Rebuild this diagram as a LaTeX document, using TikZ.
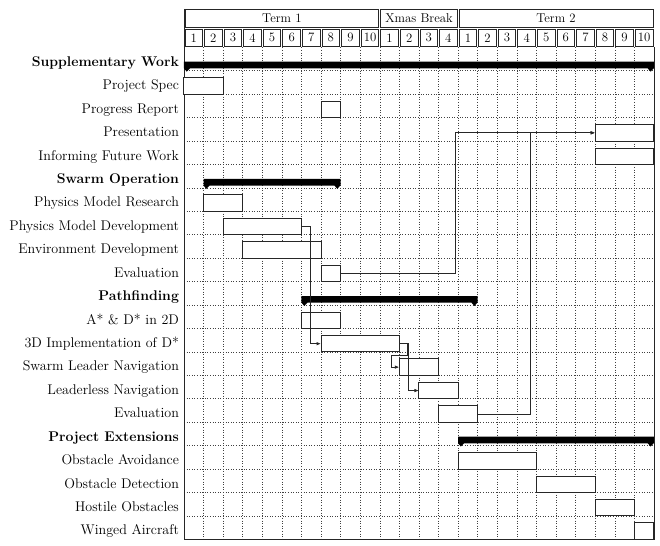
\documentclass[tikz,border=0pt]{standalone}
\usetikzlibrary{arrows.meta,calc}
\newcommand{\lblfont}{\fontsize{14.05}{16}\selectfont}
\newcommand{\hdrfont}{\fontsize{12.8}{15}\selectfont}
\tikzset{
  gridline/.style={dotted,line width=0.6pt,black!75},
  barbox/.style={draw=black!85,line width=1pt,fill=white,inner sep=0pt,outer sep=0pt,minimum height=16.4pt,anchor=north west},
  rowlabel/.style={anchor=base east,inner sep=0pt,font=\lblfont},
  grouplabel/.style={anchor=base east,inner sep=0pt,font=\lblfont\bfseries},
  hcell/.style={draw=black!85,line width=0.9pt,inner sep=0pt,font=\hdrfont},
  linkline/.style={draw=black!85,line width=0.9pt,-{Latex[length=4.5pt,width=3.5pt]}},
  groupfill/.style={fill=black}
}
% task bar: name, row, first column, last column
\newcommand{\taskbar}[4]{\node[barbox,minimum width={(#4-#3+1)*19.583pt}] (#1) at (#3-1,#2-0.7) {};}
% group bar: row, first column, last column
\newcommand{\groupbar}[3]{\fill[groupfill] (#2-1,#1-0.385) -- (#3,#1-0.385) -- (#3,#1-0.1) -- (#3-0.32,#1-0.1) -- (#3-0.17,#1+0.04) -- (#3-0.02,#1-0.1) -- (#2-1+0.3,#1-0.1) -- (#2-1+0.14,#1+0.04) -- (#2-1,#1-0.1) -- cycle;}
\begin{document}
\begin{tikzpicture}[x=19.583pt,y=-23.43pt]
\useasboundingbox (-9.396,-2.019) rectangle (24.307,21.242);
% grid
\foreach \i in {1,...,23} \draw[gridline] (\i,0) -- (\i,21);
\foreach \j in {1,...,20} \draw[gridline] (0,\j) -- (24,\j);
% canvas frame
\draw[draw=black!85,line width=0.9pt] (0,-1.635) -- (0,21) -- (24,21) -- (24,-0.034);
% title row 1
\node[hcell,minimum width={9.9*19.583pt},minimum height=18pt] (term1) at (5,-1.25) {Term 1};
\node[hcell,minimum width={3.9*19.583pt},minimum height=18pt] (xmas) at (12,-1.25) {Xmas Break};
\node[hcell,minimum width={9.9*19.583pt},minimum height=18pt] (term2) at (19,-1.25) {Term 2};
% title row 2
\foreach \k in {1,...,10} \node[hcell,minimum width={0.9*19.583pt},minimum height=17.5pt] (ta\k) at (\k-0.5,-0.408) {\k};
\foreach \k in {1,...,4} \node[hcell,minimum width={0.9*19.583pt},minimum height=17.5pt] (tb\k) at (\k+9.5,-0.408) {\k};
\foreach \k in {1,...,10} \node[hcell,minimum width={0.9*19.583pt},minimum height=17.5pt] (tc\k) at (\k+13.5,-0.408) {\k};
% labels
\node[grouplabel] (l1) at (-0.25,0.81) {Supplementary Work};
\node[rowlabel] (l2) at (-0.25,1.81) {Project Spec};
\node[rowlabel] (l3) at (-0.25,2.81) {Progress Report};
\node[rowlabel] (l4) at (-0.25,3.81) {Presentation};
\node[rowlabel] (l5) at (-0.25,4.81) {Informing Future Work};
\node[grouplabel] (l6) at (-0.25,5.81) {Swarm Operation};
\node[rowlabel] (l7) at (-0.25,6.81) {Physics Model Research};
\node[rowlabel] (l8) at (-0.25,7.81) {Physics Model Development};
\node[rowlabel] (l9) at (-0.25,8.81) {Environment Development};
\node[rowlabel] (l10) at (-0.25,9.81) {Evaluation};
\node[grouplabel] (l11) at (-0.25,10.81) {Pathfinding};
\node[rowlabel] (l12) at (-0.25,11.81) {A* \& D* in 2D};
\node[rowlabel] (l13) at (-0.25,12.81) {3D Implementation of D*};
\node[rowlabel] (l14) at (-0.25,13.81) {Swarm Leader Navigation};
\node[rowlabel] (l15) at (-0.25,14.81) {Leaderless Navigation};
\node[rowlabel] (l16) at (-0.25,15.81) {Evaluation};
\node[grouplabel] (l17) at (-0.25,16.81) {Project Extensions};
\node[rowlabel] (l18) at (-0.25,17.81) {Obstacle Avoidance};
\node[rowlabel] (l19) at (-0.25,18.81) {Obstacle Detection};
\node[rowlabel] (l20) at (-0.25,19.81) {Hostile Obstacles};
\node[rowlabel] (l21) at (-0.25,20.81) {Winged Aircraft};
% group bars
\groupbar{1}{1}{24}
\groupbar{6}{2}{8}
\groupbar{11}{7}{15}
\groupbar{17}{15}{24}
% task bars
\taskbar{spec}{2}{1}{2}
\taskbar{prog}{3}{8}{8}
\taskbar{pres}{4}{22}{24}
\taskbar{futw}{5}{22}{24}
\taskbar{pmr}{7}{2}{3}
\taskbar{pmd}{8}{3}{6}
\taskbar{envd}{9}{4}{7}
\taskbar{evala}{10}{8}{8}
\taskbar{ad2d}{12}{7}{8}
\taskbar{d3d}{13}{8}{11}
\taskbar{sln}{14}{12}{13}
\taskbar{lln}{15}{13}{14}
\taskbar{evalb}{16}{14}{15}
\taskbar{oba}{18}{15}{18}
\taskbar{obd}{19}{19}{21}
\taskbar{hob}{20}{22}{23}
\taskbar{wac}{21}{24}{24}
% links
\coordinate (m1) at ($(pmd.east)!0.45!(d3d.west)$);
\draw[linkline] (pmd.east) -| (m1) |- (d3d.west);
\coordinate (m2) at ($(evala.east)!0.45!(pres.west)$);
\draw[linkline] (evala.east) -| (m2) |- (pres.west);
\coordinate (m3) at ($(evalb.east)!0.45!(pres.west)$);
\draw[linkline] (evalb.east) -| (m3) |- (pres.west);
\coordinate (m4) at ($(sln.north west)+(-0.42,-0.15)$);
\draw[linkline] (d3d.east) -- ++(0.42,0) |- (m4) |- (sln.west);
\coordinate (m5) at ($(d3d.east)!0.45!(lln.west)$);
\draw[linkline] (d3d.east) -| (m5) |- (lln.west);
\end{tikzpicture}
\end{document}
